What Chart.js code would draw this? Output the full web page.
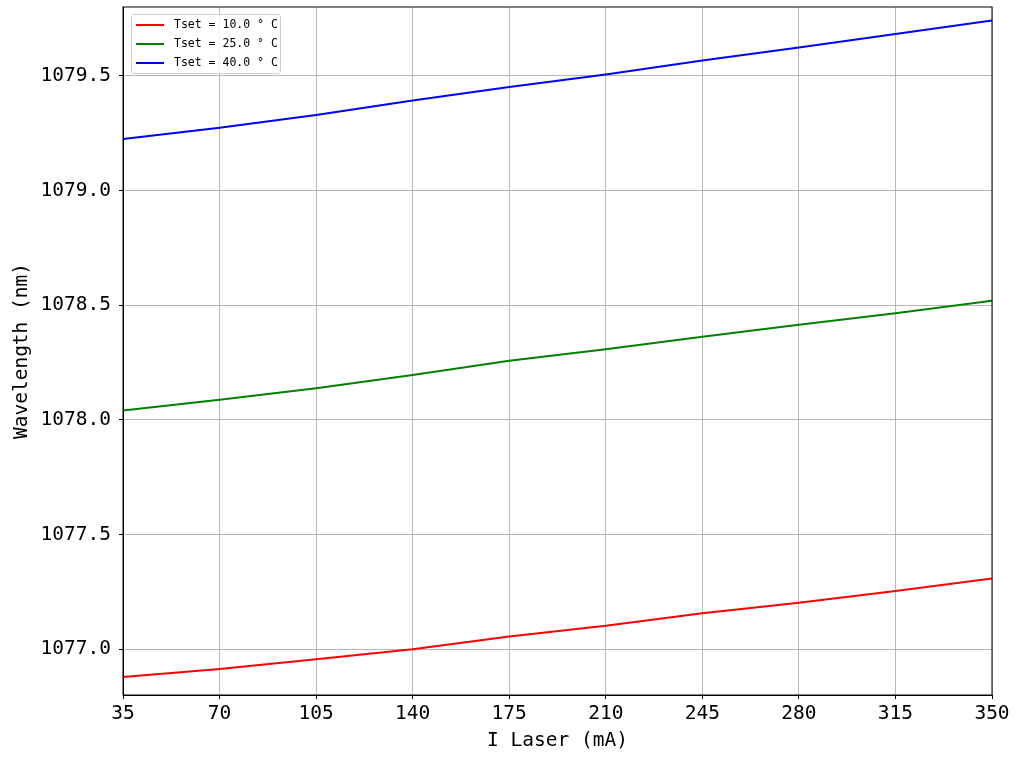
<!DOCTYPE html>
<html>
<head>
<meta charset="utf-8">
<script src="https://cdn.jsdelivr.net/npm/chart.js@4.4.0/dist/chart.umd.min.js"></script>
<style>
    html, body { margin: 0; padding: 0; background: #fff; }
    #wrap { position: relative; width: 1024px; height: 759px; }
    #legend {
        position: absolute; left: 131px; top: 14px;
        width: 150px; height: 60px;
        border: 1px solid #d0d0d0; border-radius: 3px;
        background: rgba(255,255,255,0.8);
        font-family: "DejaVu Sans Mono", monospace; font-size: 11.5px; color: #000;
        box-sizing: border-box; padding-top: 0px;
    }
    #legend .row { height: 19px; line-height: 19px; white-space: pre; }
    #legend .swatch {
        display: inline-block; width: 28px; height: 2px;
        margin-left: 4px; margin-right: 10px; vertical-align: middle;
    }
</style>
</head>
<body>
<div id="wrap">
    <canvas id="chart" width="1024" height="759"></canvas>
    <div id="legend"></div>
</div>
<script>
// 電流値 (mA)
const currents = [35, 70, 105, 140, 175, 210, 245, 280, 315, 350];

// 各温度での波長 (nm)
const wl10 = [1076.879, 1076.913, 1076.956, 1077.000, 1077.055, 1077.102, 1077.156, 1077.202, 1077.254, 1077.308];
const wl25 = [1078.041, 1078.087, 1078.138, 1078.195, 1078.257, 1078.308, 1078.362, 1078.414, 1078.465, 1078.519];
const wl40 = [1079.224, 1079.273, 1079.329, 1079.392, 1079.451, 1079.506, 1079.567, 1079.623, 1079.682, 1079.741];

// 目盛り
const xTicks = [35, 70, 105, 140, 175, 210, 245, 280, 315, 350];
const yTicks = [1077.0, 1077.5, 1078.0, 1078.5, 1079.0, 1079.5];

const seriesLabels = ['Tset = 10.0 ° C', 'Tset = 25.0 ° C', 'Tset = 40.0 ° C'];
const seriesColors = ['#ff0000', '#008000', '#0000ff'];

// x と y を点の配列にする
function toPoints(values) {
    return currents.map(function(c, i) {
        return { x: c, y: values[i] };
    });
}

const tickFont = { family: '"DejaVu Sans Mono", monospace', size: 19.5 };

// 枠線（上と右）を描く
const framePlugin = {
    id: 'frame',
    afterDraw: function(chart) {
        const a = chart.chartArea;
        const ctx = chart.ctx;
        ctx.save();
        ctx.strokeStyle = '#000';
        ctx.lineWidth = 1;
        ctx.strokeRect(a.left, a.top, a.right - a.left, a.bottom - a.top);
        ctx.restore();
    }
};

const ctx = document.getElementById('chart').getContext('2d');
const chart = new Chart(ctx, {
    type: 'line',
    data: {
        datasets: [wl10, wl25, wl40].map(function(values, i) {
            return {
                label: seriesLabels[i],
                data: toPoints(values),
                borderColor: seriesColors[i],
                backgroundColor: seriesColors[i],
                borderWidth: 2,
                pointRadius: 0,
                tension: 0,
                fill: false
            };
        })
    },
    options: {
        responsive: false,
        animation: false,
        layout: { padding: { top: 7, right: 32, left: 0, bottom: 0 } },
        plugins: {
            legend: { display: false },
            tooltip: { enabled: false }
        },
        scales: {
            x: {
                type: 'linear',
                min: 35,
                max: 350,
                afterBuildTicks: function(scale) {
                    scale.ticks = xTicks.map(function(v) { return { value: v }; });
                },
                afterFit: function(scale) {
                    scale.height = 64;
                    scale.paddingLeft = 0;
                    scale.paddingRight = 0;
                },
                ticks: {
                    color: '#000',
                    font: tickFont,
                    padding: 3,
                    maxRotation: 0,
                    autoSkip: false
                },
                grid: { color: '#b8b8b8', lineWidth: 1, tickLength: 4, tickColor: '#000' },
                border: { color: '#000', width: 1 },
                title: {
                    display: true,
                    text: 'I Laser (mA)',
                    color: '#000',
                    font: tickFont,
                    padding: { top: 0, bottom: 6 }
                }
            },
            y: {
                min: 1076.8,
                max: 1079.8,
                afterBuildTicks: function(scale) {
                    scale.ticks = yTicks.map(function(v) { return { value: v }; });
                },
                afterFit: function(scale) {
                    scale.width = 123;
                    scale.paddingTop = 0;
                    scale.paddingBottom = 0;
                },
                ticks: {
                    color: '#000',
                    font: tickFont,
                    padding: 8,
                    autoSkip: false,
                    callback: function(value) {
                        return Number(value).toFixed(1);
                    }
                },
                grid: { color: '#b8b8b8', lineWidth: 1, tickLength: 4, tickColor: '#000' },
                border: { color: '#000', width: 1 },
                title: {
                    display: true,
                    text: 'Wavelength (nm)',
                    color: '#000',
                    font: tickFont,
                    padding: { top: 10, bottom: 0 }
                }
            }
        }
    },
    plugins: [framePlugin]
});

// 凡例を HTML で作る
const legendBox = document.getElementById('legend');
chart.data.datasets.forEach(function(ds) {
    const row = document.createElement('div');
    row.className = 'row';
    const sw = document.createElement('span');
    sw.className = 'swatch';
    sw.style.background = ds.borderColor;
    row.appendChild(sw);
    row.appendChild(document.createTextNode(ds.label));
    legendBox.appendChild(row);
});
</script>
</body>
</html>
